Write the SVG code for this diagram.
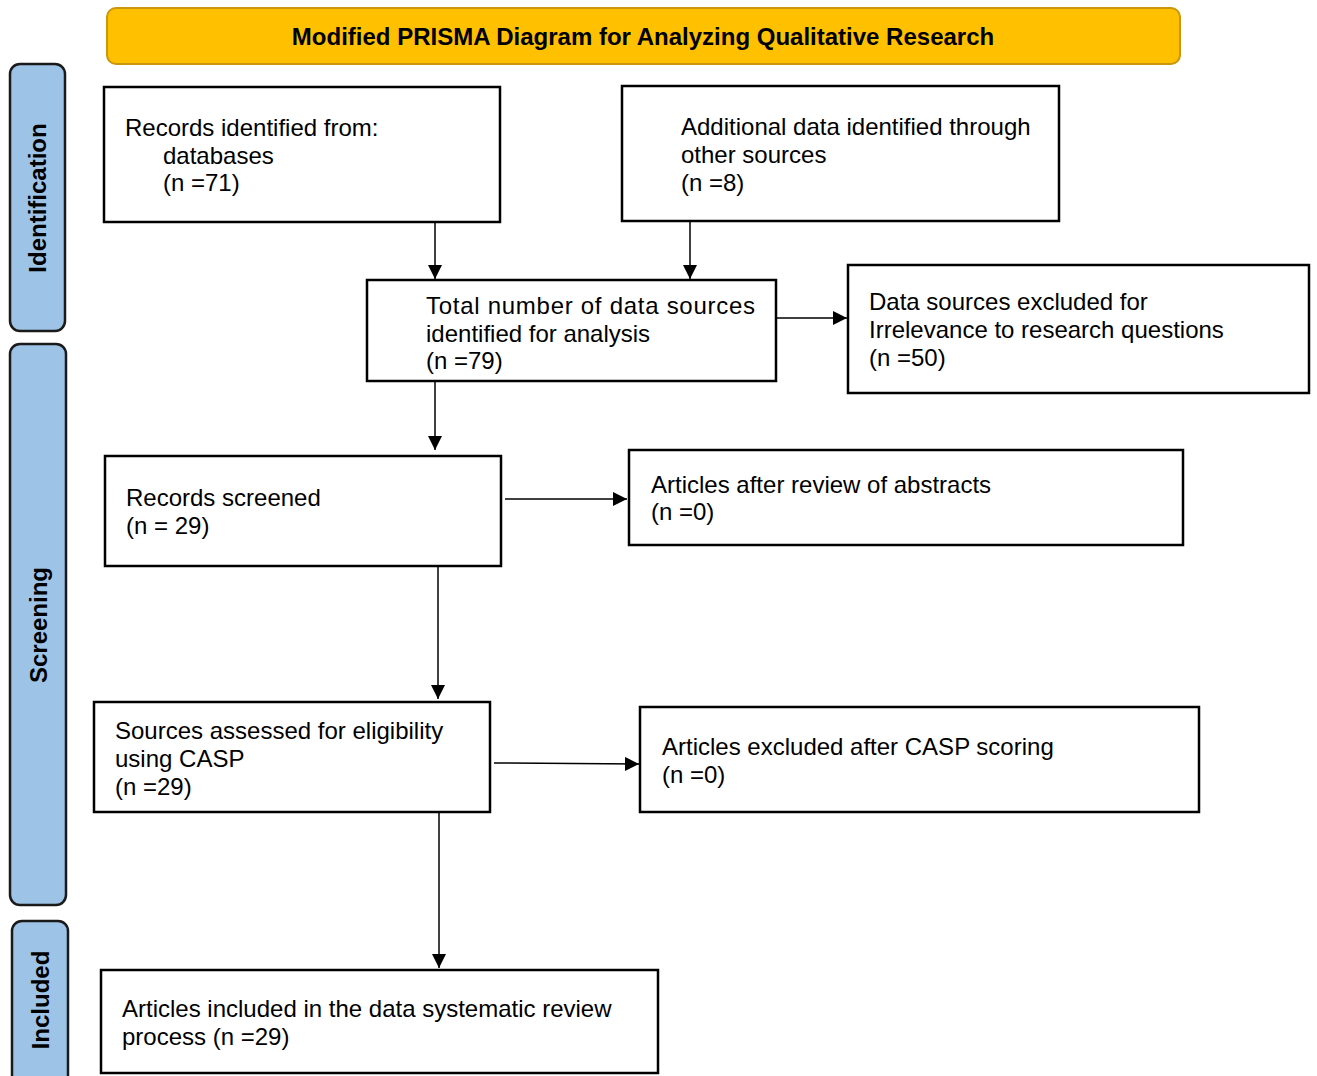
<svg xmlns="http://www.w3.org/2000/svg" width="1317" height="1076" viewBox="0 0 1317 1076">
<defs>
<style>
.box{fill:#fff;stroke:#000;stroke-width:2.5}
.t{font-family:"Liberation Sans",Arial,sans-serif;font-size:24px;fill:#000}
.phase{fill:#9DC3E6;stroke:#1a1a1a;stroke-width:2.5}
.pt{font-family:"Liberation Sans",Arial,sans-serif;font-size:24px;font-weight:bold;fill:#000;text-anchor:middle}
.c{stroke:#000;stroke-width:1.5;fill:none;marker-end:url(#ah)}
</style>
<marker id="ah" viewBox="0 0 14 14" refX="14" refY="7" markerWidth="14" markerHeight="14" markerUnits="userSpaceOnUse" orient="auto">
<path d="M0,0 L14,7 L0,14 Z" fill="#000"/>
</marker>
</defs>
<rect width="1317" height="1076" fill="#fff"/>
<g id="title">
<rect x="107" y="8" width="1073" height="56" rx="9" fill="#FFC000" stroke="#C9960C" stroke-width="2"/>
<text x="643" y="45" class="pt">Modified PRISMA Diagram for Analyzing Qualitative Research</text>
</g>
<g id="phase-identification">
<rect x="10" y="64" width="55" height="267" rx="10" class="phase"/>
<text class="pt" transform="translate(46,198) rotate(-90)">Identification</text>
</g>
<g id="phase-screening">
<rect x="10" y="344" width="56" height="561" rx="10" class="phase"/>
<text class="pt" transform="translate(47,625) rotate(-90)">Screening</text>
</g>
<g id="phase-included">
<rect x="12" y="921" width="56" height="170" rx="10" class="phase"/>
<text class="pt" transform="translate(49,1000) rotate(-90)">Included</text>
</g>
<g id="records-identified">
<rect x="104" y="87" width="396" height="135" class="box"/>
<text class="t" x="125" y="136">Records identified from:</text>
<text class="t" x="163" y="164">databases</text>
<text class="t" x="163" y="191">(n =71)</text>
</g>
<g id="additional-data">
<rect x="622" y="86" width="437" height="135" class="box"/>
<text class="t" x="681" y="135">Additional data identified through</text>
<text class="t" x="681" y="163">other sources</text>
<text class="t" x="681" y="191">(n =8)</text>
</g>
<g id="total-sources">
<rect x="367" y="280" width="409" height="101" class="box"/>
<text class="t" x="426" y="314" textLength="329" lengthAdjust="spacing">Total number of data sources</text>
<text class="t" x="426" y="342">identified for analysis</text>
<text class="t" x="426" y="369">(n =79)</text>
</g>
<g id="excluded-irrelevance">
<rect x="848" y="265" width="461" height="128" class="box"/>
<text class="t" x="869" y="310">Data sources excluded for</text>
<text class="t" x="869" y="338">Irrelevance to research questions</text>
<text class="t" x="869" y="366">(n =50)</text>
</g>
<g id="records-screened">
<rect x="105" y="456" width="396" height="110" class="box"/>
<text class="t" x="126" y="506">Records screened</text>
<text class="t" x="126" y="534">(n = 29)</text>
</g>
<g id="after-abstracts">
<rect x="629" y="450" width="554" height="95" class="box"/>
<text class="t" x="651" y="493">Articles after review of abstracts</text>
<text class="t" x="651" y="520">(n =0)</text>
</g>
<g id="sources-assessed">
<rect x="94" y="702" width="396" height="110" class="box"/>
<text class="t" x="115" y="739">Sources assessed for eligibility</text>
<text class="t" x="115" y="767">using CASP</text>
<text class="t" x="115" y="795">(n =29)</text>
</g>
<g id="excluded-casp">
<rect x="640" y="707" width="559" height="105" class="box"/>
<text class="t" x="662" y="755">Articles excluded after CASP scoring</text>
<text class="t" x="662" y="783">(n =0)</text>
</g>
<g id="included">
<rect x="101" y="970" width="557" height="103" class="box"/>
<text class="t" x="122" y="1017">Articles included in the data systematic review</text>
<text class="t" x="122" y="1045">process (n =29)</text>
</g>
<g id="connectors">
<line class="c" x1="435" y1="223" x2="435" y2="279"/>
<line class="c" x1="690" y1="222" x2="690" y2="279"/>
<line class="c" x1="777" y1="318" x2="847" y2="318"/>
<line class="c" x1="435" y1="382" x2="435" y2="450"/>
<line class="c" x1="505" y1="499" x2="627" y2="499"/>
<line class="c" x1="438" y1="567" x2="438" y2="699"/>
<line class="c" x1="494" y1="763" x2="639" y2="764"/>
<line class="c" x1="439" y1="813" x2="439" y2="968"/>
</g>
</svg>
